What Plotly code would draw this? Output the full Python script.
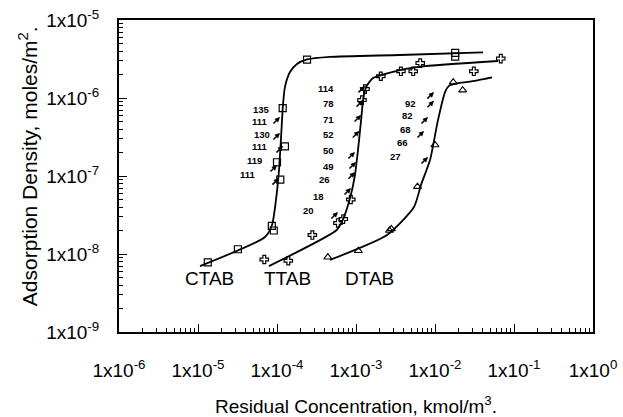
import numpy as np
import plotly.graph_objects as go

# ---------------- data ----------------
# measured points (markers)
ctab_x = [1.33e-5, 3.2e-5, 8.6e-5, 9.1e-5, 1.1e-4, 1.0e-4, 1.26e-4, 1.18e-4, 2.4e-4, 1.8e-2, 1.8e-2]
ctab_y = [7.8e-9, 1.15e-8, 2.3e-8, 2.0e-8, 9.0e-8, 1.5e-7, 2.4e-7, 7.4e-7, 3.1e-6, 3.8e-6, 3.4e-6]

ttab_x = [6.9e-5, 1.39e-4, 2.8e-4, 5.9e-4, 6.9e-4, 8.6e-4, 1.19e-3, 1.3e-3, 2.06e-3, 3.7e-3, 5.3e-3, 6.5e-3, 3.1e-2, 6.8e-2]
ttab_y = [8.5e-9, 8.2e-9, 1.75e-8, 2.5e-8, 2.8e-8, 5.0e-8, 9.4e-7, 1.3e-6, 1.9e-6, 2.2e-6, 2.2e-6, 2.8e-6, 2.2e-6, 3.2e-6]

dtab_x = [4.4e-4, 1.07e-3, 2.8e-3, 2.65e-3, 6.0e-3, 1.0e-2, 1.7e-2, 2.24e-2]
dtab_y = [9.1e-9, 1.1e-8, 2.1e-8, 2.0e-8, 7.3e-8, 2.5e-7, 1.6e-6, 1.26e-6]

# fitted curves
ctab_fit_x = [1.06e-5, 7.05e-5, 8.65e-5, 9.7e-5, 1.06e-4, 1.12e-4, 1.19e-4, 1.26e-4, 1.46e-4, 1.79e-4, 2.4e-4, 4.7e-4, 3.6e-3, 4.05e-2]
ctab_fit_y = [7.0e-9, 1.65e-8, 2.35e-8, 4.9e-8, 1.19e-7, 2.9e-7, 8.1e-7, 1.38e-6, 2.15e-6, 2.73e-6, 3.12e-6, 3.36e-6, 3.56e-6, 3.85e-6]

ttab_fit_x = [7.9e-5, 5.7e-4, 6.8e-4, 8.6e-4, 9.7e-4, 1.06e-3, 1.16e-3, 1.23e-3, 1.34e-3, 1.64e-3, 2.94e-3, 6.45e-3, 6.27e-2]
ttab_fit_y = [7.0e-9, 2.03e-8, 2.73e-8, 5.7e-8, 1.03e-7, 2.15e-7, 5.2e-7, 9.4e-7, 1.38e-6, 1.8e-6, 2.17e-6, 2.52e-6, 2.98e-6]

dtab_fit_x = [4.69e-4, 2.47e-3, 5.42e-3, 6.65e-3, 8.65e-3, 1.09e-2, 1.34e-2, 1.5e-2, 1.9e-2, 2.77e-2, 5.27e-2]
dtab_fit_y = [8.4e-9, 1.75e-8, 4.0e-8, 7.7e-8, 1.6e-7, 5.2e-7, 1.19e-6, 1.43e-6, 1.54e-6, 1.62e-6, 1.84e-6]

# numeric labels with arrows
ctab_labels = ["135", "111", "130", "111", "119", "111"]
ctab_lab_x = [8.65e-5, 8.15e-5, 8.65e-5, 8.15e-5, 6.85e-5, 5.74e-5]
ctab_lab_y = [7.16e-7, 4.97e-7, 3.45e-7, 2.38e-7, 1.6e-7, 1.06e-7]
ctab_arr_x = [None, 1.09e-4, 1.09e-4, 1.19e-4, 1.0e-4, 1.06e-4]
ctab_arr_y = [None, 5.7e-7, 3.56e-7, 2.43e-7, 1.38e-7, 9.4e-8]

ttab_labels = ["114", "78", "71", "52", "50", "49", "26", "18", "20"]
ttab_lab_x = [5.6e-4, 5.6e-4, 5.6e-4, 5.6e-4, 5.6e-4, 5.6e-4, 4.97e-4, 4.17e-4, 3.16e-4]
ttab_lab_y = [1.33e-6, 8.4e-7, 5.3e-7, 3.36e-7, 2.1e-7, 1.34e-7, 8.9e-8, 5.5e-8, 3.56e-8]
ttab_arr_x = [1.3e-3, 1.23e-3, 1.16e-3, 1.1e-3, 9.7e-4, 1.0e-3, 9.7e-4, 8.65e-4, 5.9e-4]
ttab_arr_y = [1.43e-6, 9.4e-7, 6.05e-7, 3.78e-7, 2.03e-7, 1.51e-7, 1.12e-7, 7.0e-8, 3.45e-8]

dtab_labels = ["92", "82", "68", "66", "27"]
dtab_lab_x = [6.1e-3, 5.6e-3, 5.27e-3, 4.83e-3, 3.94e-3]
dtab_lab_y = [8.55e-7, 5.88e-7, 3.9e-7, 2.7e-7, 1.8e-7]
dtab_arr_x = [9.7e-3, 9.7e-3, 8.15e-3, 7.26e-3, 8.15e-3]
dtab_arr_y = [1.19e-6, 9.2e-7, 5.7e-7, 3.78e-7, 1.75e-7]

series_names = ["CTAB", "TTAB", "DTAB"]
name_x = [1.38e-5, 1.36e-4, 1.5e-3]
name_y = [4.9e-9, 4.9e-9, 4.9e-9]

x_tickvals = [1e-6, 1e-5, 1e-4, 1e-3, 1e-2, 1e-1, 1e0]
x_ticktext = ["1x10<sup>-6</sup>", "1x10<sup>-5</sup>", "1x10<sup>-4</sup>", "1x10<sup>-3</sup>",
              "1x10<sup>-2</sup>", "1x10<sup>-1</sup>", "1x10<sup>0</sup>"]
y_tickvals = [1e-9, 1e-8, 1e-7, 1e-6, 1e-5]
y_ticktext = ["1x10<sup>-9</sup>", "1x10<sup>-8</sup>", "1x10<sup>-7</sup>", "1x10<sup>-6</sup>", "1x10<sup>-5</sup>"]

x_title = "Residual Concentration, kmol/m<sup>3</sup>."
y_title = "Adsorption Density, moles/m<sup>2</sup>."

# ---------------- figure ----------------
FONT = "Liberation Sans, Arial, sans-serif"
fig = go.Figure()

line_style = dict(color="black", width=1.8)
for fx, fy in [(ctab_fit_x, ctab_fit_y), (ttab_fit_x, ttab_fit_y), (dtab_fit_x, dtab_fit_y)]:
    fig.add_trace(go.Scatter(x=fx, y=fy, mode="lines", line=dict(shape="spline", smoothing=0.6, **line_style),
                             showlegend=False, hoverinfo="skip"))

fig.add_trace(go.Scatter(x=ctab_x, y=ctab_y, mode="markers",
                         marker=dict(symbol="square-open", size=7, color="black", line=dict(width=1.2)),
                         showlegend=False))
fig.add_trace(go.Scatter(x=ttab_x, y=ttab_y, mode="markers",
                         marker=dict(symbol="cross-open", size=7, color="black", line=dict(width=1.2)),
                         showlegend=False))
fig.add_trace(go.Scatter(x=dtab_x, y=dtab_y, mode="markers",
                         marker=dict(symbol="triangle-up-open", size=7, color="black", line=dict(width=1.1)),
                         showlegend=False))

annotations = []
for n, x, y in zip(series_names, name_x, name_y):
    annotations.append(dict(x=np.log10(x), y=np.log10(y), xref="x", yref="y", text=n, showarrow=False,
                            font=dict(family=FONT, size=19, color="black")))

def add_labels(labels, lx, ly, axs, ays):
    for t, x, y, hx, hy in zip(labels, lx, ly, axs, ays):
        annotations.append(dict(x=np.log10(x), y=np.log10(y), xref="x", yref="y", text="<b>" + t + "</b>",
                                showarrow=False, xanchor="right",
                                font=dict(family=FONT, size=9.5, color="black")))
        if hx is not None:
            annotations.append(dict(x=np.log10(hx), y=np.log10(hy), xref="x", yref="y", text="",
                                    showarrow=True, ax=-8, ay=8, arrowhead=2, arrowsize=0.7,
                                    arrowwidth=1.5, arrowcolor="black"))

add_labels(ctab_labels, ctab_lab_x, ctab_lab_y, ctab_arr_x, ctab_arr_y)
add_labels(ttab_labels, ttab_lab_x, ttab_lab_y, ttab_arr_x, ttab_arr_y)
add_labels(dtab_labels, dtab_lab_x, dtab_lab_y, dtab_arr_x, dtab_arr_y)

# axis titles as paper annotations (exact placement)
annotations.append(dict(x=0.5, y=-0.234, xref="paper", yref="paper", text=x_title, showarrow=False,
                        xanchor="center", yanchor="middle", font=dict(family=FONT, size=19, color="black")))
annotations.append(dict(x=-0.193, y=0.53, xref="paper", yref="paper", text=y_title, showarrow=False,
                        textangle=-90, xanchor="center", yanchor="middle",
                        font=dict(family=FONT, size=21, color="black")))

fig.update_layout(
    width=623, height=417,
    margin=dict(l=119, r=30, t=20, b=85),
    paper_bgcolor="white", plot_bgcolor="white",
    font=dict(family=FONT, size=19, color="black"),
    annotations=annotations,
    showlegend=False,
)
fig.update_xaxes(
    type="log", range=[-6, 0], tickvals=x_tickvals, ticktext=x_ticktext,
    ticks="inside", ticklen=8, tickwidth=1.2, tickcolor="black",
    minor=dict(ticks="inside", ticklen=4, tickwidth=1, tickcolor="black", dtick="D1", showgrid=False),
    showline=True, linecolor="black", linewidth=2, mirror=True, showgrid=False, zeroline=False,
    tickfont=dict(size=19), ticklabelstandoff=20, automargin=False,
)
fig.update_yaxes(
    type="log", range=[-9, -5], tickvals=y_tickvals, ticktext=y_ticktext,
    ticks="inside", ticklen=8, tickwidth=1.2, tickcolor="black",
    minor=dict(ticks="inside", ticklen=4, tickwidth=1, tickcolor="black", dtick="D1", showgrid=False),
    showline=True, linecolor="black", linewidth=2, mirror=True, showgrid=False, zeroline=False,
    tickfont=dict(size=19), ticklabelstandoff=14, automargin=False,
)

fig.write_html("out.html")
